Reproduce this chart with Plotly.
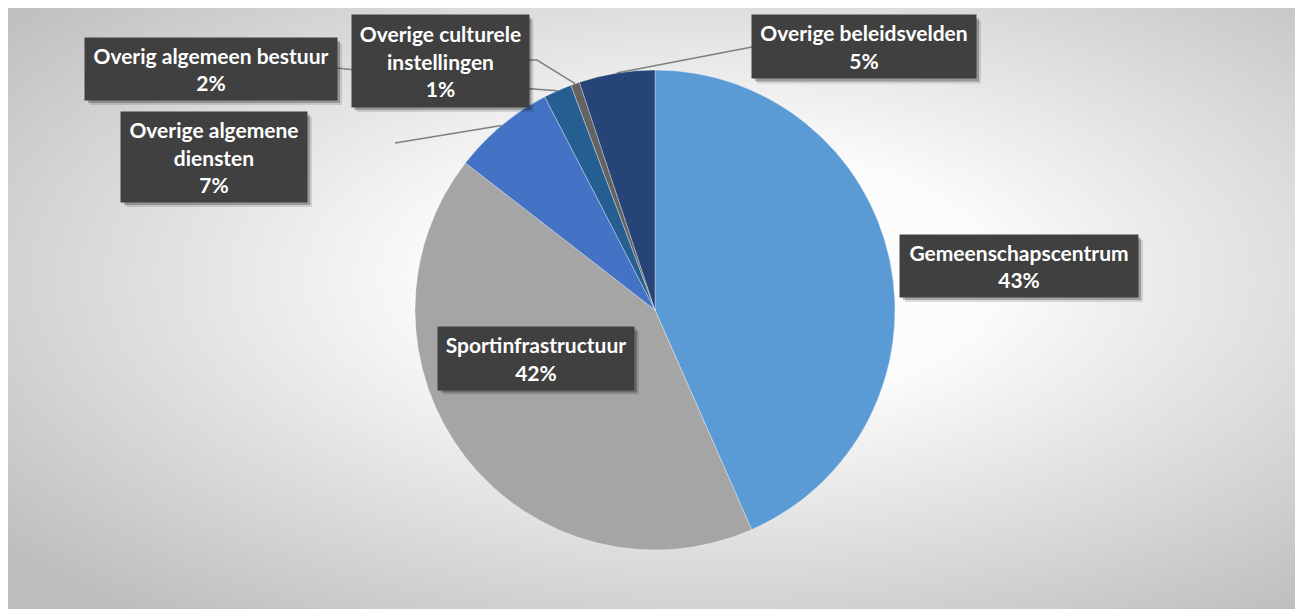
import math
import base64
import plotly.graph_objects as go

# ---- data ----
categories = ["Gemeenschapscentrum", "Sportinfrastructuur", "Overige algemene diensten",
              "Overig algemeen bestuur", "Overige culturele instellingen", "Overige beleidsvelden"]
values = [43.4, 42.1, 6.9, 1.9, 0.6, 5.1]
label_lines = [["Gemeenschapscentrum"], ["Sportinfrastructuur"], ["Overige algemene", "diensten"],
               ["Overig algemeen bestuur"], ["Overige culturele", "instellingen"], ["Overige beleidsvelden"]]
colors = ["#5B9BD5", "#A5A5A5", "#4472C4", "#255E91", "#636363", "#264478"]

# page body has an 8px margin: figure occupies screen px 8.. ; work in screen px and shift
OFF = 8
W, H = 1295, 601
CX, CY, R = 655, 310, 240  # pie centre / radius in screen px


def px(x):
    return (x - OFF) / W


def py(y):
    return 1 - (y - OFF) / H


# label boxes (centre x, centre y, width, height) in screen px
boxes = [
    (1019, 266, 238, 62),
    (536, 358, 196, 63),
    (214, 157, 186, 90),
    (211, 69, 252, 62),
    (440, 61, 177, 92),
    (864, 47, 224, 63),
]
# leader line anchor paths (screen px), None = no leader line
leaders = [None, None,
           [(395, 143)],
           [(337, 68), (520, 88)],
           [(528, 60), (537, 60)],
           [(752, 47)]]

fig = go.Figure()
fig.add_trace(go.Pie(
    labels=categories, values=values, sort=False, direction="clockwise", rotation=0,
    marker=dict(colors=colors, line=dict(color="rgba(255,255,255,0.4)", width=0.8)),
    textinfo="none", hoverinfo="label+percent", showlegend=False,
    domain=dict(x=[px(CX - R), px(CX + R)], y=[py(CY + R), py(CY - R)]),
))

# background radial gradient
svg = ("<svg xmlns='http://www.w3.org/2000/svg' width='1290' height='602' preserveAspectRatio='none'>"
       "<defs><radialGradient id='g' cx='55%' cy='45%' r='72%'>"
       "<stop offset='0' stop-color='#ffffff'/><stop offset='0.3' stop-color='#fbfbfb'/>"
       "<stop offset='1' stop-color='#bdbdbd'/></radialGradient></defs>"
       "<rect width='1290' height='602' fill='url(#g)'/></svg>")
src = "data:image/svg+xml;base64," + base64.b64encode(svg.encode()).decode()
images = [dict(source=src, xref="paper", yref="paper", x=0, y=1,
               sizex=px(1296), sizey=1, sizing="stretch",
               xanchor="left", yanchor="top", layer="below")]

shapes = []
annotations = []
total = sum(values)
cum = 0.0
for i, v in enumerate(values):
    mid = (cum + v / 2) / total * 2 * math.pi
    cum += v
    ex = CX + R * math.sin(mid)
    ey = CY - R * math.cos(mid)
    if leaders[i]:
        pts = leaders[i] + [(ex, ey)]
        path = "M " + " L ".join(f"{px(a):.5f},{py(b):.5f}" for a, b in pts)
        shapes.append(dict(type="path", path=path, xref="paper", yref="paper",
                           line=dict(color="#7F7F7F", width=1.5), layer="above"))

for i, (bx, by, bw, bh) in enumerate(boxes):
    # shadow
    for off, op in ((5, 0.12), (3, 0.25)):
        shapes.append(dict(type="rect", xref="paper", yref="paper",
                           x0=px(bx - bw / 2 + off), x1=px(bx + bw / 2 + off),
                           y0=py(by + bh / 2 + off), y1=py(by - bh / 2 + off),
                           fillcolor=f"rgba(0,0,0,{op})", line=dict(width=0), layer="above"))
    pct = round(values[i] / total * 100)
    text = "<br>".join(label_lines[i] + [f"{pct}%"])
    annotations.append(dict(
        x=px(bx), y=py(by), xref="paper", yref="paper", xanchor="center", yanchor="middle",
        text=f"<b>{text}</b>", showarrow=False, width=bw, height=bh, borderpad=0,
        bgcolor="#404040", align="center", valign="middle",
        font=dict(family="Lato, Open Sans, sans-serif", size=21, color="white"),
    ))

fig.update_layout(
    width=W, height=H, autosize=False,
    margin=dict(l=0, r=0, t=0, b=0),
    paper_bgcolor="white", plot_bgcolor="rgba(0,0,0,0)",
    images=images, shapes=shapes, annotations=annotations,
)
fig.write_html("out.html")
